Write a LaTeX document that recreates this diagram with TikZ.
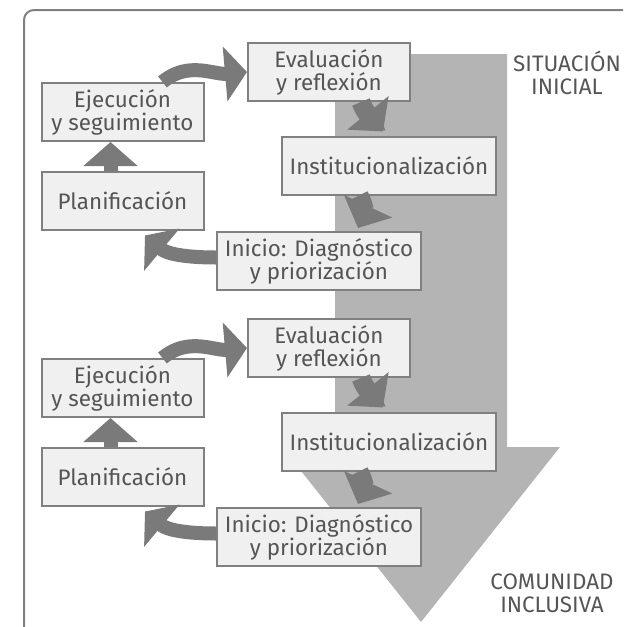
\documentclass[tikz,border=0pt]{standalone}
\usepackage{fontspec}
\setmainfont{Fira Sans}
\usepackage{xcolor}
\usetikzlibrary{arrows.meta}
\definecolor{boxgray}{HTML}{F0F0F0}
\definecolor{linegray}{HTML}{808080}
\definecolor{arrowgray}{HTML}{7A7A7A}
\definecolor{bandgray}{HTML}{B4B4B4}
\definecolor{textgray}{HTML}{555555}
\tikzset{
  stage/.style={draw=linegray,fill=boxgray,line width=1pt,text=textgray,
    font=\fontsize{11.2}{11.5}\selectfont,align=center,
    minimum width=81pt,minimum height=29pt,inner xsep=4pt,inner ysep=2pt},
  flow/.style={draw=arrowgray,line width=7pt,-{Triangle[width=27pt,length=11pt]}},
  turn/.style={draw=arrowgray,line width=9.5pt,-{Triangle[width=26pt,length=12pt]}},
  caption/.style={text=textgray,font=\fontsize{11.2}{11.5}\selectfont,align=center},
}
\newcommand{\drawCycle}[2]{% y offset (px), name suffix
  \begin{scope}[yshift=-#1*0.5pt]
  \node[stage] (eval#2) at (329,-72) {Evaluación\\y reflexión};
  \node[stage] (ejec#2) at (122.5,-112) {Ejecución\\y seguimiento};
  \node[stage] (plan#2) at (122.5,-200.5) {Planificación};
  \node[stage] (inst#2) at (389,-165.5) {Institucionalización};
  \node[stage] (inicio#2) at (319,-261) {Inicio: Diagnóstico\\y priorización};
  \end{scope}
  \draw[flow] ([xshift=20pt]ejec#2.north) to[out=40,in=185] (eval#2.west);
  \draw[flow,-{Triangle[width=26.5pt,length=12pt]}] ([xshift=-6pt]plan#2.north) -- ([xshift=-6pt]ejec#2.south);
  \draw[turn] ([xshift=16pt]eval#2.south) to[out=-70,in=129] ([xshift=-3pt,yshift=2pt]inst#2.north);
  \draw[turn] ([xshift=-15pt]inst#2.south) to[out=-60,in=65] ([xshift=19.5pt,yshift=1.5pt]inicio#2.north);
  \draw[flow] ([yshift=1.75pt]inicio#2.west) to[out=180,in=-40] ([xshift=11.25pt,yshift=-2.5pt]plan#2.south);
}

\begin{document}
\begin{tikzpicture}[x=0.5pt,y=0.5pt]
\useasboundingbox (0,0) rectangle (623,-627);
\clip (0,0) rectangle (623,-627);

% Frame
\draw[linegray,line width=1pt,rounded corners=5pt] (24,-700) -- (24,-10) -- (700,-10);

% Big downward arrow
\fill[bandgray] (335,-54) -- (507,-54) -- (507,-447) -- (560,-447)
  -- (421,-622) -- (282,-447) -- (335,-447) -- cycle;

\node[caption] (start) at (567,-73) {SITUACIÓN\\INICIAL};
\node[caption] (goal) at (552,-593) {COMUNIDAD\\INCLUSIVA};

% Two cycles
\drawCycle{0}{a}
\drawCycle{276}{b}

\end{tikzpicture}
\end{document}
